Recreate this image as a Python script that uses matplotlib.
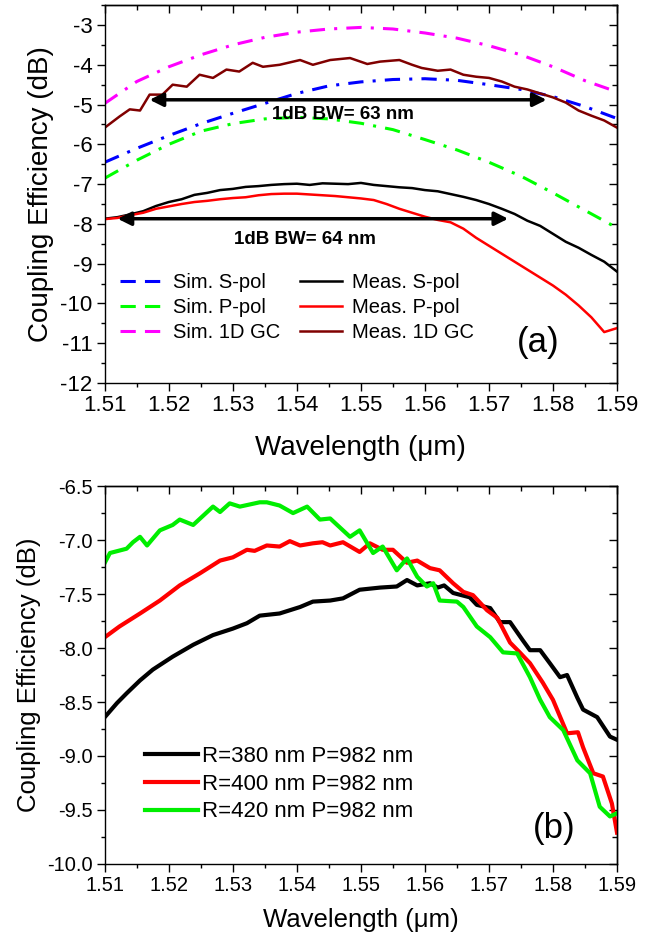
import numpy as np
import matplotlib
matplotlib.use("Agg")
import matplotlib.pyplot as plt
from matplotlib.lines import Line2D
from matplotlib.ticker import MultipleLocator, FormatStrFormatter

plt.rcParams['font.family'] = ['Liberation Sans', 'DejaVu Sans']
plt.rcParams['axes.unicode_minus'] = False
plt.rcParams['axes.linewidth'] = 1.0

# ---- panel (a): simulated curves (smooth) ----
wl_sim = [1.510, 1.515, 1.520, 1.525, 1.530, 1.535, 1.540, 1.545, 1.550,
          1.555, 1.560, 1.565, 1.570, 1.575, 1.580, 1.585, 1.590]
sim_s = [-6.45, -6.10, -5.78, -5.48, -5.22, -4.97, -4.72, -4.53, -4.43,
         -4.37, -4.35, -4.39, -4.50, -4.62, -4.80, -5.05, -5.35]
sim_p = [-6.85, -6.40, -6.00, -5.67, -5.48, -5.36, -5.32, -5.36, -5.47,
         -5.63, -5.88, -6.14, -6.45, -6.80, -7.22, -7.66, -8.10]
sim_1d = [-4.97, -4.42, -4.05, -3.75, -3.50, -3.31, -3.18, -3.10, -3.06,
          -3.10, -3.20, -3.33, -3.52, -3.75, -4.05, -4.40, -4.68]

# ---- panel (a): measured curves ----
wl_meas = [1.510, 1.512, 1.514, 1.516, 1.518, 1.520, 1.522, 1.524, 1.526, 1.528,
           1.530, 1.532, 1.534, 1.536, 1.538, 1.540, 1.542, 1.544, 1.546, 1.548,
           1.550, 1.552, 1.554, 1.556, 1.558, 1.560, 1.562, 1.564, 1.566, 1.568,
           1.570, 1.572, 1.574, 1.576, 1.578, 1.580, 1.582, 1.584, 1.586, 1.588, 1.590]
meas_s = [-7.87, -7.83, -7.76, -7.68, -7.55, -7.45, -7.38, -7.27, -7.22, -7.15,
          -7.12, -7.07, -7.05, -7.02, -7.00, -6.99, -7.02, -6.98, -6.99, -7.00,
          -6.97, -7.02, -7.05, -7.08, -7.10, -7.15, -7.18, -7.25, -7.32, -7.40,
          -7.50, -7.62, -7.75, -7.92, -8.05, -8.25, -8.45, -8.60, -8.78, -8.95, -9.20]
meas_p = [-7.88, -7.85, -7.78, -7.72, -7.62, -7.56, -7.50, -7.45, -7.42, -7.38,
          -7.35, -7.33, -7.28, -7.25, -7.24, -7.24, -7.26, -7.28, -7.30, -7.33,
          -7.36, -7.40, -7.50, -7.62, -7.72, -7.82, -7.90, -7.96, -8.12, -8.35,
          -8.55, -8.75, -8.95, -9.15, -9.35, -9.55, -9.78, -10.05, -10.35, -10.72, -10.62]

wl_1d = [1.5100, 1.5123, 1.5139, 1.5155, 1.5170, 1.5190, 1.5206, 1.5228, 1.5248,
         1.5269, 1.5290, 1.5310, 1.5331, 1.5347, 1.5373, 1.5405, 1.5425, 1.5452,
         1.5483, 1.5510, 1.5530, 1.5560, 1.5580, 1.5595, 1.5620, 1.5640, 1.5660,
         1.5680, 1.5700, 1.5720, 1.5740, 1.5760, 1.5780, 1.5800, 1.5820, 1.5840,
         1.5860, 1.5880, 1.5900]
meas_1d = [-5.58, -5.30, -5.12, -5.15, -4.75, -4.75, -4.50, -4.55, -4.25,
           -4.33, -4.12, -4.17, -3.95, -4.05, -4.00, -3.88, -4.00, -3.88,
           -3.83, -3.98, -3.92, -3.88, -4.00, -4.08, -4.15, -4.12, -4.25,
           -4.30, -4.33, -4.42, -4.55, -4.62, -4.72, -4.82, -4.95, -5.15,
           -5.28, -5.40, -5.58]

labels_a = ['Sim. S-pol', 'Sim. P-pol', 'Sim. 1D GC',
            'Meas. S-pol', 'Meas. P-pol', 'Meas. 1D GC']
bw_upper = (1.517, 1.579, -4.88, '1dB BW= 63 nm', 1.5472, -5.26)
bw_lower = (1.512, 1.573, -7.87, '1dB BW= 64 nm', 1.5413, -8.40)

# ---- panel (b) ----
wl_r380 = [1.5100, 1.5119, 1.5134, 1.5155, 1.5175, 1.5206, 1.5238, 1.5269, 1.5300,
           1.5322, 1.5342, 1.5373, 1.5405, 1.5425, 1.5452, 1.5472, 1.5498, 1.5530,
           1.5556, 1.5572, 1.5588, 1.5608, 1.5620, 1.5630, 1.5644, 1.5670, 1.5681,
           1.5702, 1.5717, 1.5733, 1.5753, 1.5764, 1.5780, 1.5795, 1.5811, 1.5822,
           1.5838, 1.5847, 1.5869, 1.5889, 1.5900]
ce_r380 = [-8.64, -8.51, -8.42, -8.30, -8.20, -8.08, -7.97, -7.88, -7.82,
           -7.77, -7.70, -7.68, -7.62, -7.57, -7.56, -7.54, -7.46, -7.44,
           -7.43, -7.37, -7.42, -7.40, -7.44, -7.42, -7.49, -7.53, -7.60,
           -7.63, -7.76, -7.76, -7.93, -8.02, -8.02, -8.14, -8.27, -8.25,
           -8.46, -8.57, -8.64, -8.82, -8.85]
wl_r400 = [1.5100, 1.5123, 1.5155, 1.5186, 1.5217, 1.5248, 1.5280, 1.5300, 1.5322,
           1.5334, 1.5353, 1.5373, 1.5389, 1.5405, 1.5425, 1.5440, 1.5452, 1.5472,
           1.5498, 1.5514, 1.5534, 1.5550, 1.5572, 1.5588, 1.5608, 1.5623, 1.5644,
           1.5660, 1.5675, 1.5697, 1.5713, 1.5733, 1.5748, 1.5764, 1.5784, 1.5800,
           1.5822, 1.5839, 1.5847, 1.5863, 1.5878, 1.5892, 1.5900]
ce_r400 = [-7.90, -7.80, -7.68, -7.56, -7.42, -7.31, -7.19, -7.16, -7.09,
           -7.10, -7.05, -7.06, -7.01, -7.05, -7.03, -7.02, -7.05, -7.02,
           -7.11, -7.03, -7.09, -7.09, -7.21, -7.19, -7.26, -7.28, -7.40,
           -7.48, -7.51, -7.65, -7.72, -7.95, -8.04, -8.14, -8.32, -8.48,
           -8.79, -8.78, -8.92, -9.16, -9.19, -9.44, -9.71]
wl_r420 = [1.5100, 1.5108, 1.5134, 1.5144, 1.5155, 1.5166, 1.5186, 1.5206, 1.5217,
           1.5238, 1.5269, 1.5280, 1.5295, 1.5311, 1.5342, 1.5353, 1.5373, 1.5394,
           1.5416, 1.5436, 1.5452, 1.5483, 1.5498, 1.5519, 1.5534, 1.5556, 1.5572,
           1.5588, 1.5603, 1.5613, 1.5623, 1.5650, 1.5660, 1.5681, 1.5702, 1.5722,
           1.5744, 1.5764, 1.5780, 1.5795, 1.5816, 1.5838, 1.5858, 1.5873, 1.5889, 1.5900]
ce_r420 = [-7.21, -7.12, -7.08, -7.02, -6.97, -7.05, -6.91, -6.86, -6.81,
           -6.86, -6.69, -6.74, -6.66, -6.69, -6.65, -6.65, -6.68, -6.75,
           -6.69, -6.81, -6.80, -6.97, -6.91, -7.12, -7.06, -7.28, -7.17,
           -7.34, -7.43, -7.40, -7.56, -7.57, -7.62, -7.80, -7.90, -8.04,
           -8.05, -8.27, -8.48, -8.64, -8.76, -9.04, -9.16, -9.47, -9.56, -9.53]
labels_b = ['R=380 nm P=982 nm', 'R=400 nm P=982 nm', 'R=420 nm P=982 nm']


def style_axes(ax, ymajor, yminor, tick_fs, label_fs, xpad):
    ax.xaxis.set_major_locator(MultipleLocator(0.01))
    ax.xaxis.set_minor_locator(MultipleLocator(0.005))
    ax.yaxis.set_major_locator(MultipleLocator(ymajor))
    ax.yaxis.set_minor_locator(MultipleLocator(yminor))
    ax.xaxis.set_major_formatter(FormatStrFormatter('%.2f'))
    ax.tick_params(which='both', direction='out', top=False, right=False,
                   labelsize=tick_fs, width=1.0)
    ax.tick_params(which='major', length=5.5)
    ax.tick_params(which='minor', length=3)
    # Origin style: inward ticks on top/right
    top = ax.secondary_xaxis('top')
    top.xaxis.set_major_locator(MultipleLocator(0.01))
    top.xaxis.set_minor_locator(MultipleLocator(0.005))
    top.tick_params(which='both', direction='in', labeltop=False, width=1.0)
    top.tick_params(which='major', length=5.5)
    top.tick_params(which='minor', length=3.5)
    right = ax.secondary_yaxis('right')
    right.yaxis.set_major_locator(MultipleLocator(ymajor))
    right.yaxis.set_minor_locator(MultipleLocator(yminor))
    right.tick_params(which='both', direction='in', labelright=False, width=1.0)
    right.tick_params(which='major', length=5.5)
    right.tick_params(which='minor', length=3.5)
    ax.set_xlabel('Wavelength (\u03bcm)', fontsize=label_fs, labelpad=xpad)
    ax.set_ylabel('Coupling Efficiency (dB)', fontsize=label_fs, labelpad=4)


fig = plt.figure(figsize=(6.55, 9.33), dpi=100)
ax1 = fig.add_axes([0.160, 0.5895, 0.782, 0.405])
ax2 = fig.add_axes([0.160, 0.074, 0.782, 0.405])

# panel (a)
dd = (0, (5, 3, 1, 3))
sim_colors = ['#0000FF', '#00FF00', '#FF00FF']
meas_colors = ['black', '#FF0000', '#800000']
ax1.plot(wl_sim, sim_s, color=sim_colors[0], lw=2.2, linestyle=dd)
ax1.plot(wl_sim, sim_p, color=sim_colors[1], lw=2.2, linestyle=dd)
ax1.plot(wl_sim, sim_1d, color=sim_colors[2], lw=2.2, linestyle=dd)
ax1.plot(wl_meas, meas_s, color=meas_colors[0], lw=1.8)
ax1.plot(wl_meas, meas_p, color=meas_colors[1], lw=1.8)
ax1.plot(wl_1d, meas_1d, color=meas_colors[2], lw=1.8)

for x0, x1, yv, txt, tx, ty in (bw_upper, bw_lower):
    ax1.annotate('', xy=(x1, yv), xytext=(x0, yv),
                 arrowprops=dict(arrowstyle='<|-|>', color='black', lw=2.5,
                                 mutation_scale=20, shrinkA=0, shrinkB=0))
    ax1.text(tx, ty, txt, fontsize=13.5, fontweight='bold', ha='center', va='center')

ax1.set_xlim(1.51, 1.59)
ax1.set_ylim(-12, -2.5)
style_axes(ax1, 1, 0.5, 16, 20, 13)
handles_a = [Line2D([], [], color=c, lw=2.2, linestyle=(0, (5, 3))) for c in sim_colors]
handles_a += [Line2D([], [], color=c, lw=1.8) for c in meas_colors]
ax1.legend(handles_a, labels_a, loc='upper left', bbox_to_anchor=(-0.005, 0.34),
           ncol=2, frameon=False, fontsize=14.5, handlelength=2.1, handletextpad=0.5,
           columnspacing=1.0, labelspacing=0.3, borderpad=0.4)
ax1.text(0.846, 0.106, '(a)', transform=ax1.transAxes, fontsize=25,
         ha='center', va='center')

# panel (b)
ax2.plot(wl_r380, ce_r380, color='black', lw=3, label=labels_b[0])
ax2.plot(wl_r400, ce_r400, color='#FF0000', lw=3, label=labels_b[1])
ax2.plot(wl_r420, ce_r420, color='#00EE00', lw=3, label=labels_b[2])
ax2.set_xlim(1.51, 1.59)
ax2.set_ylim(-10, -6.5)
style_axes(ax2, 0.5, 0.25, 14.5, 18.5, 9)
ax2.yaxis.set_major_formatter(FormatStrFormatter('%.1f'))
ax2.legend(loc='upper left', bbox_to_anchor=(0.04, 0.365), frameon=False,
           fontsize=16, handlelength=2.35, handletextpad=0.2,
           labelspacing=0.3, borderpad=0.4)
ax2.text(0.877, 0.095, '(b)', transform=ax2.transAxes, fontsize=25,
         ha='center', va='center')

fig.savefig('out.png', dpi=100)
